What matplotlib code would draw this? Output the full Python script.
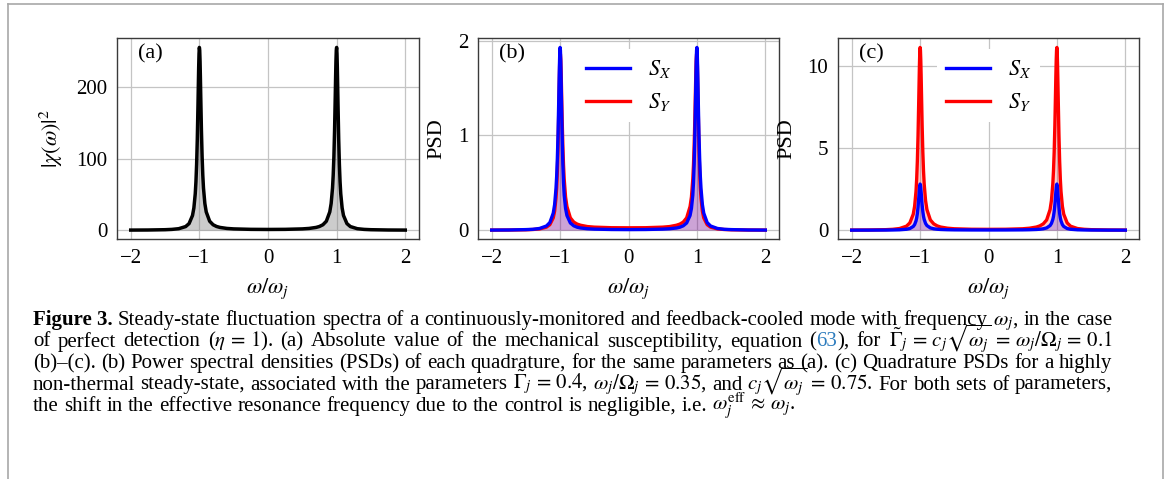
import matplotlib
matplotlib.use("Agg")
import matplotlib.pyplot as plt
from matplotlib.lines import Line2D

plt.rcParams['font.family'] = 'serif'
plt.rcParams['font.serif'] = ['Liberation Serif', 'DejaVu Serif']
plt.rcParams['mathtext.fontset'] = 'stix'

# sampled frequency axis (omega / omega_j), dense near the resonances
omega = [-2.0, -1.75, -1.5, -1.4, -1.3, -1.2, -1.15, -1.1, -1.08, -1.06, -1.05, -1.04,
         -1.03, -1.02, -1.015, -1.01, -1.005, -1.0, -0.995, -0.99, -0.985, -0.98, -0.97,
         -0.96, -0.95, -0.94, -0.92, -0.9, -0.85, -0.8, -0.75, -0.7, -0.6, -0.5, -0.25,
         0.0,
         0.25, 0.5, 0.6, 0.7, 0.75, 0.8, 0.85, 0.9, 0.92, 0.94, 0.95, 0.96, 0.97, 0.98,
         0.985, 0.99, 0.995, 1.0, 1.005, 1.01, 1.015, 1.02, 1.03, 1.04, 1.05, 1.06, 1.08,
         1.1, 1.15, 1.2, 1.3, 1.4, 1.5, 1.75, 2.0]

# (a) |chi(omega)|^2
chi2 = [0.11, 0.23, 0.64, 1.08, 2.07, 5.02, 9.16, 20.5, 31.0, 50.8, 67.4, 91.8,
        127.1, 175.1, 201.9, 227.1, 246.4, 255.1, 251.2, 236.0, 213.2, 187.5, 139.3,
        102.5, 76.7, 58.8, 37.2, 25.5, 12.5, 7.57, 5.17, 3.82, 2.43, 1.77, 1.14,
        1.00,
        1.14, 1.77, 2.43, 3.82, 5.17, 7.57, 12.5, 25.5, 37.2, 58.8, 76.7, 102.5, 139.3, 187.5,
        213.2, 236.0, 251.2, 255.1, 246.4, 227.1, 201.9, 175.1, 127.1, 91.8, 67.4, 50.8, 31.0,
        20.5, 9.16, 5.02, 2.07, 1.08, 0.64, 0.23, 0.11]

# (b) quadrature PSDs, same parameters as (a)
sx_b = [0.001, 0.002, 0.006, 0.009, 0.018, 0.044, 0.080, 0.18, 0.27, 0.44, 0.57, 0.76,
        1.01, 1.36, 1.55, 1.73, 1.87, 1.93, 1.90, 1.78, 1.59, 1.38, 1.00,
        0.70, 0.50, 0.37, 0.23, 0.155, 0.076, 0.046, 0.031, 0.023, 0.015, 0.011, 0.007,
        0.006,
        0.007, 0.011, 0.015, 0.023, 0.031, 0.046, 0.076, 0.155, 0.23, 0.37, 0.50, 0.70, 1.00, 1.38,
        1.59, 1.78, 1.90, 1.93, 1.87, 1.73, 1.55, 1.36, 1.01, 0.76, 0.57, 0.44, 0.27,
        0.18, 0.080, 0.044, 0.018, 0.009, 0.006, 0.002, 0.001]
sy_b = [0.0007, 0.0015, 0.004, 0.007, 0.013, 0.032, 0.058, 0.13, 0.20, 0.34, 0.45, 0.62,
        0.88, 1.24, 1.44, 1.64, 1.80, 1.87, 1.86, 1.80, 1.68, 1.52, 1.18,
        0.90, 0.69, 0.54, 0.35, 0.25, 0.13, 0.085, 0.064, 0.052, 0.038, 0.032, 0.026,
        0.025,
        0.026, 0.032, 0.038, 0.052, 0.064, 0.085, 0.13, 0.25, 0.35, 0.54, 0.69, 0.90, 1.18, 1.52,
        1.68, 1.80, 1.86, 1.87, 1.80, 1.64, 1.44, 1.24, 0.88, 0.62, 0.45, 0.34, 0.20,
        0.13, 0.058, 0.032, 0.013, 0.007, 0.004, 0.0015, 0.0007]

# (c) highly non-thermal steady state
sx_c = [0.0012, 0.0026, 0.007, 0.012, 0.023, 0.055, 0.10, 0.225, 0.34, 0.56, 0.74, 1.01,
        1.40, 1.92, 2.22, 2.49, 2.71, 2.80, 2.76, 2.59, 2.34, 2.06, 1.53,
        1.13, 0.84, 0.65, 0.41, 0.28, 0.137, 0.083, 0.057, 0.042, 0.027, 0.019, 0.0125,
        0.011,
        0.0125, 0.019, 0.027, 0.042, 0.057, 0.083, 0.137, 0.28, 0.41, 0.65, 0.84, 1.13, 1.53, 2.06,
        2.34, 2.59, 2.76, 2.80, 2.71, 2.49, 2.22, 1.92, 1.40, 1.01, 0.74, 0.56, 0.34,
        0.225, 0.10, 0.055, 0.023, 0.012, 0.007, 0.0026, 0.0012]
sy_c = [0.005, 0.011, 0.031, 0.052, 0.10, 0.24, 0.44, 0.97, 1.45, 2.35, 3.10, 4.20,
        5.75, 7.80, 8.90, 9.95, 10.75, 11.10, 10.95, 10.35, 9.45, 8.40, 6.35,
        4.75, 3.60, 2.80, 1.80, 1.25, 0.62, 0.38, 0.26, 0.19, 0.12, 0.085, 0.055,
        0.05,
        0.055, 0.085, 0.12, 0.19, 0.26, 0.38, 0.62, 1.25, 1.80, 2.80, 3.60, 4.75, 6.35, 8.40,
        9.45, 10.35, 10.95, 11.10, 10.75, 9.95, 8.90, 7.80, 5.75, 4.20, 3.10, 2.35, 1.45,
        0.97, 0.44, 0.24, 0.10, 0.052, 0.031, 0.011, 0.005]

W, H = 1168, 479
fig = plt.figure(figsize=(W / 100, H / 100), dpi=100)

FS = 15
def style_axes(ax, yticks, label, ylabel):
    ax.set_xticks([-2, -1, 0, 1, 2])
    ax.set_yticks(yticks)
    ax.tick_params(length=0, pad=7, labelsize=FS)
    ax.grid(True, color='#c4c4c4', lw=0.9)
    ax.set_axisbelow(True)
    for s in ax.spines.values():
        s.set_color('#3a3a3a')
        s.set_linewidth(1.0)
    ax.set_xlabel(r'$\omega/\omega_j$', fontsize=FS + 1, labelpad=6)
    ax.set_ylabel(ylabel, fontsize=FS + 1, labelpad=8)
    ax.text(0.07, 0.925, label, transform=ax.transAxes, fontsize=FS + 1, va='center', ha='left')

bottom = 1 - 239.3 / H
height = 201 / H
ax_a = fig.add_axes([117 / W, bottom, 302 / W, height])
ax_b = fig.add_axes([478 / W, bottom, 301 / W, height])
ax_c = fig.add_axes([838 / W, bottom, 301 / W, height])

# panel (a)
ax_a.fill_between(omega, chi2, 0, color='gray', alpha=0.4, lw=0)
ax_a.plot(omega, chi2, color='black', lw=2.5)
style_axes(ax_a, [0, 100, 200], '(a)', r'$|\chi(\omega)|^2$')

# panels (b) and (c)
for ax, sx, sy in [(ax_b, sx_b, sy_b), (ax_c, sx_c, sy_c)]:
    ax.fill_between(omega, sy, 0, color='red', alpha=0.2, lw=0)
    ax.fill_between(omega, sx, 0, color='blue', alpha=0.2, lw=0)
    ax.plot(omega, sy, color='#ff0000', lw=2.4, zorder=2, label=r'$S_Y$')
    ax.plot(omega, sx, color='#0000ff', lw=2.4, zorder=3, label=r'$S_X$')
    handles, labels = ax.get_legend_handles_labels()
    leg = ax.legend(handles[::-1], labels[::-1], loc='upper center', fontsize=FS + 1,
                    frameon=True, framealpha=1, edgecolor='white', fancybox=False,
                    handlelength=2.0)
    leg.get_frame().set_linewidth(0)
style_axes(ax_b, [0, 1, 2], '(b)', 'PSD')
style_axes(ax_c, [0, 5, 10], '(c)', 'PSD')

# outer frame
frame_col = '#a8a8a8'
fig.add_artist(Line2D([8 / W, 8 / W], [0, 1 - 4 / H], color=frame_col, lw=1.2))
fig.add_artist(Line2D([8 / W, 1163 / W], [1 - 4 / H, 1 - 4 / H], color=frame_col, lw=1.2))
fig.add_artist(Line2D([1163 / W, 1163 / W], [0, 1 - 4 / H], color=frame_col, lw=1.2))

# caption, justified line by line
CFS = 15
LINK = '#2b7bbd'
N = {}
B = {'fontweight': 'bold'}
Lk = {'color': LINK}

def words(s):
    return [[(w, N)] for w in s.split(' ')]

line1 = [[('Figure 3.', B)]] + words(
    'Steady-state fluctuation spectra of a continuously-monitored and feedback-cooled '
    'mode with frequency') + [[(r'$\omega_j$,', N)]] + words('in the case')
line2 = words('of perfect detection') + [[(r'($\eta\,=\,1$).', N)]] + words(
    '(a) Absolute value of the mechanical susceptibility, equation') + \
    [[('(', N), ('63', Lk), ('),', N)]] + words('for') + \
    [[(r'$\tilde{\Gamma}_j\,=\,c_j\sqrt{\omega_j}\,=\,\omega_j/\Omega_j\,=\,0.1$', N)]]
line3 = words('(b)–(c). (b) Power spectral densities (PSDs) of each quadrature, for the '
              'same parameters as (a). (c) Quadrature PSDs for a highly')
line4 = words('non-thermal steady-state, associated with the parameters') + \
    [[(r'$\tilde{\Gamma}_j\,=\,0.4$,', N)], [(r'$\omega_j/\Omega_j\,=\,0.35$,', N)]] + \
    words('and') + [[(r'$c_j\sqrt{\omega_j}\,=\,0.75$.', N)]] + \
    words('For both sets of parameters,')
line5 = words('the shift in the effective resonance frequency due to the control is '
              'negligible, i.e.') + [[(r'$\omega_j^{\rm eff}\,\approx\,\omega_j$.', N)]]

renderer = fig.canvas.get_renderer()

def part_width(txt, kw):
    t = fig.text(0, 0, txt, fontsize=CFS, **kw)
    w = t.get_window_extent(renderer).width
    t.remove()
    return w

space = part_width('a a', N) - part_width('aa', N)
x_left, x_right = 33, 1112

def draw_line(tokens, y_base, justify=True):
    widths = [[part_width(t, kw) for t, kw in word] for word in tokens]
    total = sum(sum(w) for w in widths)
    gap = (x_right - x_left - total) / (len(tokens) - 1) if justify else space
    x = x_left
    for word, ws in zip(tokens, widths):
        for (t, kw), w in zip(word, ws):
            fig.text(x / W, 1 - y_base / H, t, fontsize=CFS, va='baseline', ha='left', **kw)
            x += w
        x += gap

for tokens, yb, j in [(line1, 325, True), (line2, 346.5, True), (line3, 368, True),
                      (line4, 389.5, True), (line5, 411, False)]:
    draw_line(tokens, yb, j)

fig.savefig('out.png', dpi=100)
